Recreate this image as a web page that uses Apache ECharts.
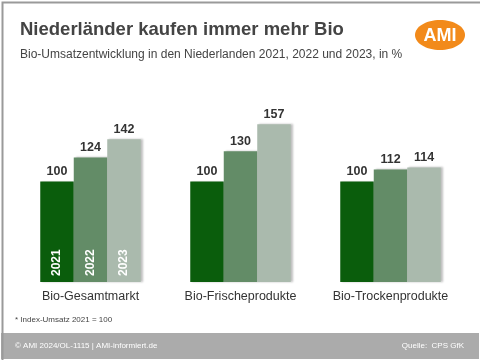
<!DOCTYPE html>
<html><head><meta charset="utf-8">
<script src="https://cdn.jsdelivr.net/npm/echarts@6/dist/echarts.min.js"></script>
<style>html,body{margin:0;padding:0;background:#fff}#c{width:480px;height:360px}</style>
</head><body><div id="c"></div>
<script>
const title = 'Niederländer kaufen immer mehr Bio';
const subtitle = 'Bio-Umsatzentwicklung in den Niederlanden 2021, 2022 und 2023, in %';
const categories = ['Bio-Gesamtmarkt', 'Bio-Frischeprodukte', 'Bio-Trockenprodukte'];
const years = ['2021', '2022', '2023'];
const v2021 = [100, 100, 100];
const v2022 = [124, 130, 112];
const v2023 = [142, 157, 114];
const footnote = '* Index-Umsatz 2021 = 100';
const footerLeft = '© AMI 2024/OL-1115 | AMI-informiert.de';
const footerRight = 'Quelle:  CPS GfK';

const colors = ['#0a5d0c', '#638c67', '#aabaad'];
const values = [v2021, v2022, v2023];
const font = 'Liberation Sans, Arial, sans-serif';

const chart = echarts.init(document.getElementById('c'));
const series = years.map((y, i) => ({
  name: y, type: 'bar', data: values[i], barWidth: 33.5, barGap: '0%',
  itemStyle: { color: colors[i], shadowColor: 'rgba(0,0,0,0.25)', shadowBlur: 2, shadowOffsetX: 2, shadowOffsetY: 0 },
  label: { show: true, position: 'top', distance: 3, color: '#333', fontSize: 12.5, fontWeight: 'bold', fontFamily: font },
  animation: false
}));

const baseGraphic = [
  { type: 'rect', left: 0, top: 0, shape: { width: 480, height: 360 }, style: { fill: 'none', stroke: '#9a9a9a', lineWidth: 2 }, z: 100 },
  { type: 'rect', left: 1, top: 333, shape: { width: 478, height: 26 }, style: { fill: '#ababab' } },
  { type: 'text', left: 15, top: 342, style: { text: footerLeft, fill: '#fff', font: '8px ' + font } },
  { type: 'text', right: 16, top: 342, style: { text: footerRight, fill: '#fff', font: '8px ' + font } },
  { type: 'text', left: 15, top: 316, style: { text: footnote, fill: '#444', font: '8px ' + font } },
  { type: 'ellipse', shape: { cx: 440, cy: 35, rx: 25, ry: 15 }, style: { fill: '#f28a1a' } },
  { type: 'text', style: { x: 440, y: 36, text: 'AMI', fill: '#fff', font: 'bold 18px ' + font, textAlign: 'center', textVerticalAlign: 'middle' } }
];

chart.setOption({
  animation: false,
  title: [
    { text: title, left: 15, top: 15, textStyle: { fontSize: 18.5, fontWeight: 'bold', color: '#444', fontFamily: font } },
    { text: subtitle, left: 15, top: 44, textStyle: { fontSize: 12, fontWeight: 'normal', color: '#444', fontFamily: font } }
  ],
  grid: { left: 15.5, right: 14.5, top: 81, bottom: 78, containLabel: false },
  xAxis: {
    type: 'category', data: categories,
    axisLine: { show: false }, axisTick: { show: false },
    axisLabel: { color: '#333', fontSize: 12.5, fontFamily: font, margin: 8, interval: 0 }
  },
  yAxis: { type: 'value', min: 0, max: 200, show: false, splitLine: { show: false } },
  series: series,
  graphic: baseGraphic
});

// Year labels inside the first group's bars, positioned from the library's bar layout
const yearLabels = years.map((y, i) => {
  const layout = chart.getModel().getSeriesByIndex(i).getData().getItemLayout(0);
  const cx = layout.x + layout.width / 2;
  const bottom = Math.max(layout.y + layout.height, layout.y);
  return {
    type: 'text', x: cx, y: bottom - 6, rotation: Math.PI / 2, z: 50,
    style: { text: y, fill: '#fff', font: 'bold 12px ' + font, textAlign: 'left', textVerticalAlign: 'middle' }
  };
});
chart.setOption({ graphic: baseGraphic.concat(yearLabels) }, { replaceMerge: ['graphic'] });
</script></body></html>
